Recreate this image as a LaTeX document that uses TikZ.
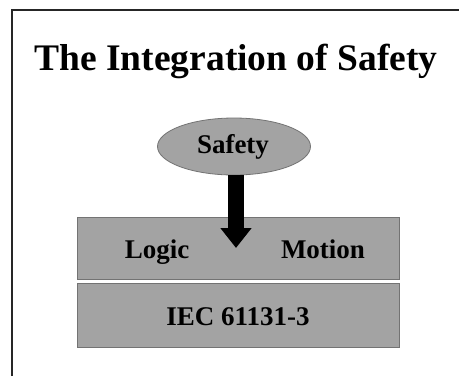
\documentclass[tikz,border=0pt]{standalone}
\usepackage{fontspec}
\setmainfont{Liberation Serif}
\usetikzlibrary{shapes.geometric,arrows.meta}
\definecolor{boxgray}{RGB}{163,163,163}
\definecolor{edgegray}{RGB}{115,115,115}
\tikzset{
  frameline/.style={line width=1.6pt, black!85},
  titletext/.style={font=\bfseries\fontsize{37.5}{40}\selectfont, anchor=base, inner sep=0pt},
  labeltext/.style={font=\bfseries\fontsize{27}{30}\selectfont, anchor=base, inner sep=0pt},
  layerbox/.style={rectangle, fill=boxgray, draw=edgegray, line width=0.8pt, minimum width=322pt, inner sep=0pt},
  safetyellipse/.style={ellipse, fill=boxgray, draw=edgegray, line width=0.8pt, minimum width=153pt, minimum height=57pt, inner sep=0pt},
  bigarrow/.style={line width=16pt, black, -{Triangle[width=30pt,length=20pt]}}
}
\begin{document}
\begin{tikzpicture}[x=1pt,y=-1pt]
\useasboundingbox (0,0) rectangle (459,376);
\fill[white] (0,0) rectangle (459,376);
% frame (only left and top edges visible)
\coordinate (fbl) at (12,376);
\coordinate (ftl) at (12,10);
\coordinate (ftr) at (459,10);
\draw[frameline] (fbl) -- (ftl) -- (ftr);
% title
\node[titletext] (title) at (236,70) {The Integration of Safety};
% layers
\node[layerbox, minimum height=62pt] (upper) at (238,248) {};
\node[layerbox, minimum height=64pt] (lower) at (238,315) {};
\node[labeltext] (logic) at (157,258) {Logic};
\node[labeltext] (motion) at (323,258) {Motion};
\node[labeltext] (iec) at (238,325) {IEC 61131-3};
% safety ellipse
\node[safetyellipse] (safety) at (234,146.5) {};
\node[labeltext] (safetytext) at (233,153) {Safety};
% arrow
\coordinate (arrowstart) at (236,175);
\coordinate (arrowtip) at (236,248);
\draw[bigarrow] (arrowstart) -- (arrowtip);
\end{tikzpicture}
\end{document}
